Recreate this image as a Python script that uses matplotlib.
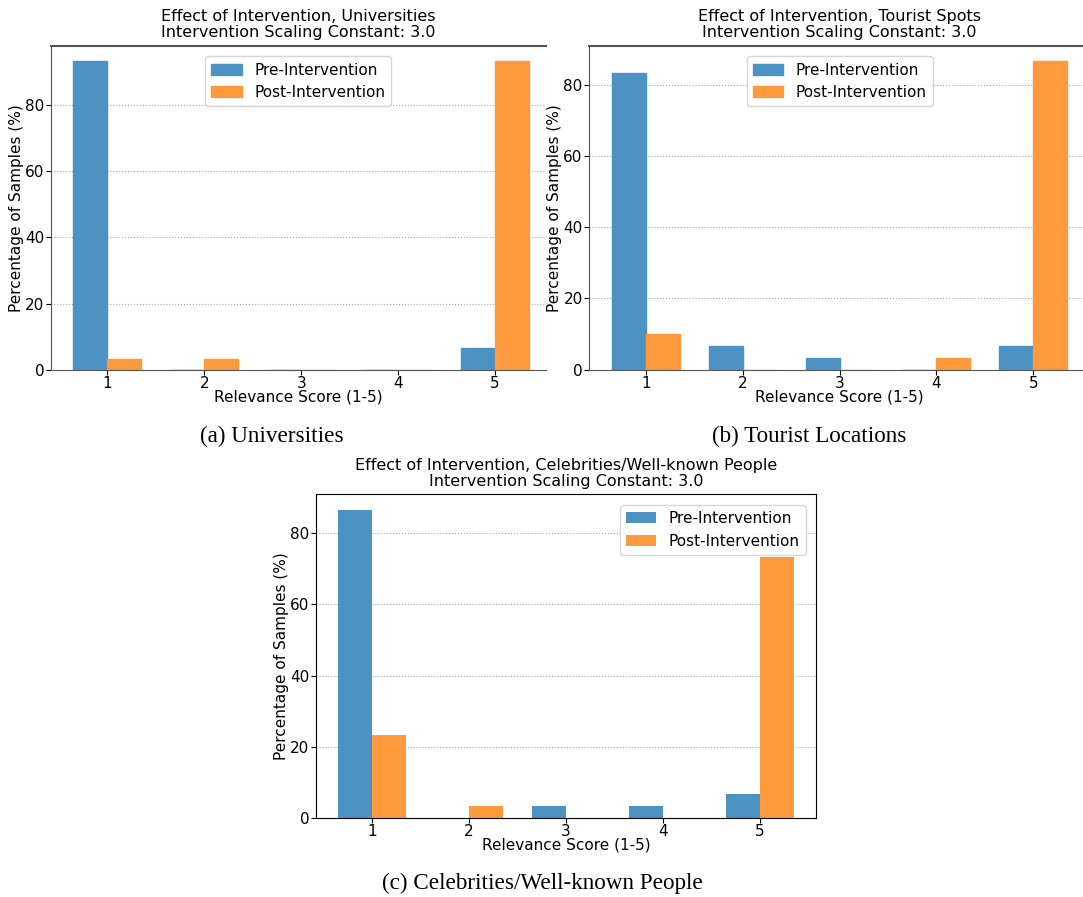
import matplotlib
matplotlib.use("Agg")
import matplotlib.pyplot as plt
import numpy as np

plt.rcParams["font.family"] = "DejaVu Sans"

# Relevance scores on the x axis
scores = [1, 2, 3, 4, 5]
series_labels = ["Pre-Intervention", "Post-Intervention"]
scaling_constant = 3.0

# Percentage of samples per score
uni_pre = [93.33, 0.0, 0.0, 0.0, 6.67]
uni_post = [3.33, 3.33, 0.0, 0.0, 93.33]
tour_pre = [83.33, 6.67, 3.33, 0.0, 6.67]
tour_post = [10.0, 0.0, 0.0, 3.33, 86.67]
celeb_pre = [86.67, 0.0, 3.33, 3.33, 6.67]
celeb_post = [23.33, 3.33, 0.0, 0.0, 73.33]

W, H = 1083, 897
FS = 11
TITLE_FS = 11.5
BAR_W = 0.35
# tab:blue / tab:orange at 80% opacity over white
C_PRE = "#4c92c3"
C_POST = "#ff993e"


def px_axes(fig, left, right, top, bottom):
    return fig.add_axes([left / W, (H - bottom) / H, (right - left) / W, (bottom - top) / H])


def draw_panel(ax, name, pre, post, legend_loc, spine_color, edge_lw, xmax=None):
    x = np.array(scores)
    ax.bar(x - BAR_W / 2, pre, BAR_W, color=C_PRE, label=series_labels[0],
           edgecolor=C_PRE, linewidth=edge_lw)
    ax.bar(x + BAR_W / 2, post, BAR_W, color=C_POST, label=series_labels[1],
           edgecolor=C_POST, linewidth=edge_lw)
    ax.set_xticks(scores)
    ax.set_xlim(0.415, 5.585 if xmax is None else xmax)
    ax.set_ylim(0, max(max(pre), max(post)) * 1.05)
    ax.set_yticks([0, 20, 40, 60, 80])
    ax.yaxis.grid(True, linestyle=":", color="gray", alpha=0.7)
    ax.set_axisbelow(True)
    ax.tick_params(labelsize=FS, length=3.5, pad=1)
    ax.set_xlabel("Relevance Score (1-5)", fontsize=FS, labelpad=-1)
    ax.set_ylabel("Percentage of Samples (%)", fontsize=FS, labelpad=1)
    ax.set_title(f"Effect of Intervention, {name}\nIntervention Scaling Constant: {scaling_constant}",
                 fontsize=TITLE_FS, pad=6, linespacing=1.1)
    ax.legend(loc=legend_loc, fontsize=FS, borderaxespad=0.7)
    for s in ax.spines.values():
        s.set_color(spine_color)


fig = plt.figure(figsize=(W / 100, H / 100), dpi=100)

ax_a = px_axes(fig, 50.7, 545.7, 45.7, 369.7)
draw_panel(ax_a, "Universities", uni_pre, uni_post, "upper center", "#555555", 1.0, xmax=5.523)
ax_a.spines["right"].set_visible(False)
ax_a.spines["top"].set_linewidth(1.5)

ax_b = px_axes(fig, 589, 1090, 45.7, 369.7)
draw_panel(ax_b, "Tourist Spots", tour_pre, tour_post, "upper center", "#555555", 1.0)
ax_b.spines["top"].set_linewidth(1.5)

ax_c = px_axes(fig, 315.7, 816.3, 494.3, 817.7)
draw_panel(ax_c, "Celebrities/Well-known People", celeb_pre, celeb_post, "upper right", "black", 0)

cap = dict(family="Liberation Serif", fontsize=16.7, ha="center", va="center")
fig.text(272 / W, (H - 436) / H, "(a) Universities", **cap)
fig.text(809 / W, (H - 436) / H, "(b) Tourist Locations", **cap)
fig.text(542 / W, (H - 883) / H, "(c) Celebrities/Well-known People", **cap)

fig.savefig("out.png", dpi=100)
